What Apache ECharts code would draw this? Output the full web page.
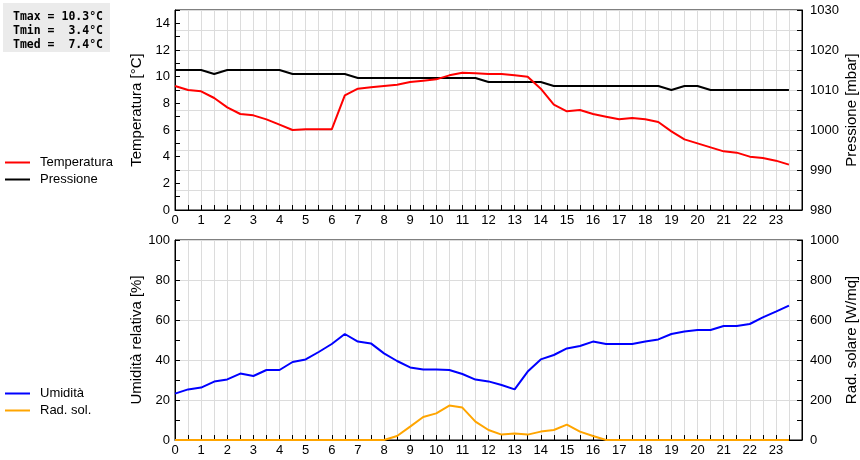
<!DOCTYPE html>
<html>
<head>
<meta charset="utf-8">
<script src="https://cdn.jsdelivr.net/npm/echarts@6/dist/echarts.min.js"></script>
<style>
html,body{margin:0;padding:0;background:#fff;}
#chart{width:860px;height:460px;}
</style>
</head>
<body>
<div id="chart"></div>
<script>
var hours = [0,0.5,1,1.5,2,2.5,3,3.5,4,4.5,5,5.5,6,6.5,7,7.5,8,8.5,9,9.5,10,10.5,11,11.5,
             12,12.5,13,13.5,14,14.5,15,15.5,16,16.5,17,17.5,18,18.5,19,19.5,20,20.5,21,21.5,22,22.5,23,23.5];
var temperatura = [9.3,9.0,8.9,8.4,7.7,7.2,7.1,6.8,6.4,6.0,6.05,6.05,6.05,8.6,9.1,9.2,9.3,9.4,9.6,9.7,9.8,10.1,10.3,10.25,
                   10.2,10.2,10.1,10.0,9.1,7.9,7.4,7.5,7.2,7.0,6.8,6.9,6.8,6.6,5.9,5.3,5.0,4.7,4.4,4.3,4.0,3.9,3.7,3.4];
var pressione = [1015,1015,1015,1014,1015,1015,1015,1015,1015,1014,1014,1014,1014,1014,1013,1013,1013,1013,1013,1013,1013,1013,1013,1013,
                 1012,1012,1012,1012,1012,1011,1011,1011,1011,1011,1011,1011,1011,1011,1010,1011,1011,1010,1010,1010,1010,1010,1010,1010];
var umidita = [23.2,25.3,26.2,29.2,30.3,33.2,32,35,35,39,40.3,44,48,53,49.2,48.3,43.3,39.5,36.3,35.2,35.2,35,33,30.2,
               29.3,27.5,25.3,34.2,40.3,42.5,45.8,47,49.2,48,48,48,49.3,50.3,53,54.2,55,55,57,57,58,61.3,64.2,67.2];
var radSol = [0,0,0,0,0,0,0,0,0,0,0,0,0,0,0,0,0,20,67,115,133,172,162,92,
              50,27,32,27,42,50,77,42,20,0,0,0,0,0,0,0,0,0,0,0,0,0,0,0];
var statLines = ['Tmax = 10.3\u00b0C', 'Tmin =  3.4\u00b0C', 'Tmed =  7.4\u00b0C'];

function pairs(vals){ return hours.map(function(h,i){ return [h, vals[i]]; }); }

var FONT = 'Liberation Sans, Arial, sans-serif';
var GRIDC = '#dcdcdc';
var lbl = {color:'#000', fontSize:13, fontFamily:FONT};
var nameSt = {color:'#000', fontSize:15, fontFamily:FONT};

function xAx(gi){
  return {
    type:'value', gridIndex:gi, min:0, max:24, interval:1,
    axisLine:{show:true, lineStyle:{color:'#000', width:1}},
    axisTick:{show:true, inside:true, length:5, lineStyle:{color:'#000'}},
    minorTick:{show:true, splitNumber:2, length:5, lineStyle:{color:'#000'}},
    splitLine:{show:true, lineStyle:{color:GRIDC, width:1}},
    minorSplitLine:{show:true, lineStyle:{color:GRIDC, width:1}},
    axisLabel:Object.assign({margin:4, showMaxLabel:false}, lbl)
  };
}

var chart = echarts.init(document.getElementById('chart'), null, {renderer:'canvas'});
chart.setOption({
  animation:false,
  backgroundColor:'#fff',
  grid:[
    {left:175, right:58, top:10, height:200, show:true, borderColor:'#000', borderWidth:1, backgroundColor:'transparent',
     containLabel:false, outerBoundsMode:'none'},
    {left:175, right:58, top:240, height:200, show:true, borderColor:'#000', borderWidth:1, backgroundColor:'transparent',
     containLabel:false, outerBoundsMode:'none'}
  ],
  legend:[
    {orient:'vertical', left:5, top:156, padding:0, itemWidth:25, itemHeight:2, itemGap:4, icon:'rect',
     textStyle:{color:'#000', fontSize:13, fontFamily:FONT, padding:[0,0,0,5]},
     data:['Temperatura','Pressione']},
    {orient:'vertical', left:5, top:387, padding:0, itemWidth:25, itemHeight:2, itemGap:4, icon:'rect',
     textStyle:{color:'#000', fontSize:13, fontFamily:FONT, padding:[0,0,0,5]},
     data:['Umidit\u00e0','Rad. sol.']}
  ],
  xAxis:[xAx(0), xAx(1)],
  yAxis:[
    {type:'value', gridIndex:0, position:'left', min:0, max:15, interval:1,
     name:'Temperatura [\u00b0C]', nameLocation:'middle', nameGap:31, nameRotate:90, nameTextStyle:nameSt, nameMoveOverlap:false,
     axisLine:{show:true, lineStyle:{color:'#000'}},
     axisTick:{show:true, inside:true, length:5, lineStyle:{color:'#000'}},
     splitLine:{show:false},
     axisLabel:Object.assign({margin:5, formatter:function(v){ return (v % 2 === 0 && v < 15) ? String(v) : ''; }}, lbl)},
    {type:'value', gridIndex:0, position:'right', min:980, max:1030, interval:5,
     name:'Pressione [mbar]', nameLocation:'middle', nameGap:42, nameRotate:90, nameTextStyle:nameSt, nameMoveOverlap:false,
     axisLine:{show:true, lineStyle:{color:'#000'}},
     axisTick:{show:true, inside:true, length:5, lineStyle:{color:'#000'}},
     splitLine:{show:true, lineStyle:{color:GRIDC, width:1}},
     axisLabel:Object.assign({margin:8, formatter:function(v){ return (v % 10 === 0) ? String(v) : ''; }}, lbl)},
    {type:'value', gridIndex:1, position:'left', min:0, max:100, interval:10,
     name:'Umidit\u00e0 relativa [%]', nameLocation:'middle', nameGap:31, nameRotate:90, nameTextStyle:nameSt, nameMoveOverlap:false,
     axisLine:{show:true, lineStyle:{color:'#000'}},
     axisTick:{show:true, inside:true, length:5, lineStyle:{color:'#000'}},
     splitLine:{show:false},
     axisLabel:Object.assign({margin:5, formatter:function(v){ return (v % 20 === 0) ? String(v) : ''; }}, lbl)},
    {type:'value', gridIndex:1, position:'right', min:0, max:1000, interval:200,
     name:'Rad. solare [W/mq]', nameLocation:'middle', nameGap:42, nameRotate:90, nameTextStyle:nameSt, nameMoveOverlap:false,
     axisLine:{show:true, lineStyle:{color:'#000'}},
     axisTick:{show:true, inside:true, length:5, lineStyle:{color:'#000'}},
     minorTick:{show:true, splitNumber:2, length:5, lineStyle:{color:'#000'}},
     splitLine:{show:true, lineStyle:{color:GRIDC, width:1}},
     axisLabel:Object.assign({margin:8, formatter:function(v){ return String(v); }}, lbl)}
  ],
  series:[
    {name:'Temperatura', type:'line', xAxisIndex:0, yAxisIndex:0, data:pairs(temperatura),
     showSymbol:false, color:'#ff0000', lineStyle:{width:2, color:'#ff0000'}, z:3},
    {name:'Pressione', type:'line', xAxisIndex:0, yAxisIndex:1, data:pairs(pressione),
     showSymbol:false, color:'#000000', lineStyle:{width:2, color:'#000000'}, z:2},
    {name:'Umidit\u00e0', type:'line', xAxisIndex:1, yAxisIndex:2, data:pairs(umidita),
     showSymbol:false, color:'#0000ff', lineStyle:{width:2, color:'#0000ff'}, z:3},
    {name:'Rad. sol.', type:'line', xAxisIndex:1, yAxisIndex:3, data:pairs(radSol),
     showSymbol:false, color:'#ffa500', lineStyle:{width:2, color:'#ffa500'}, z:2}
  ],
  graphic:[
    {type:'rect', left:3, top:3, shape:{width:107, height:49}, style:{fill:'#ebebeb'}, silent:true},
    {type:'text', left:13, top:10, silent:true,
     style:{text:statLines.join('\n'), fill:'#000', font:'bold 11.5px "DejaVu Sans Mono", monospace', lineHeight:14}}
  ]
});
</script>
</body>
</html>
